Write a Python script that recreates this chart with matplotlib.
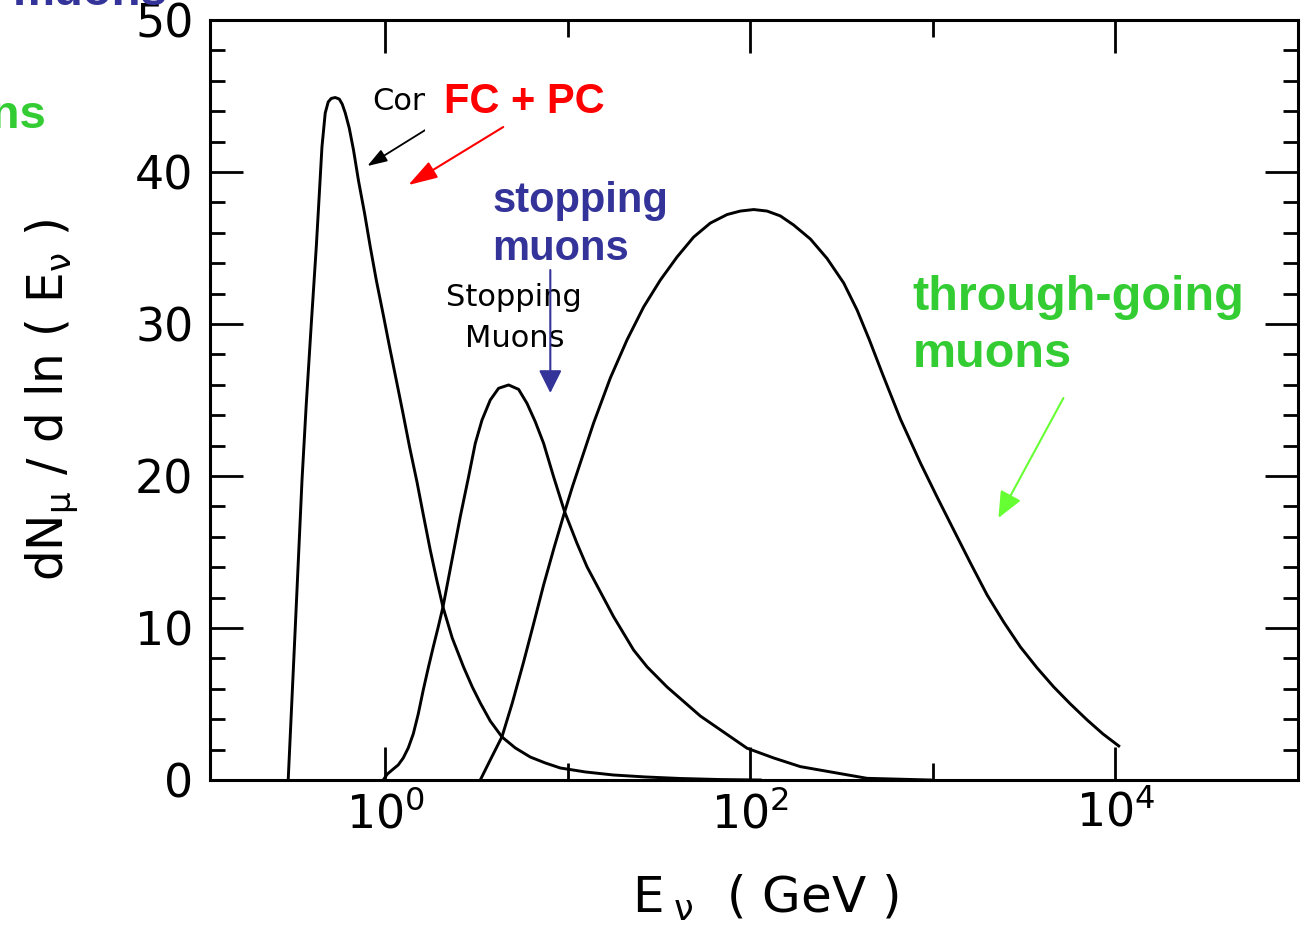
import matplotlib
matplotlib.use("Agg")
import matplotlib.pyplot as plt
import matplotlib.patches as mpatches
from matplotlib.ticker import FixedLocator, NullFormatter

plt.rcParams['font.family'] = ['DejaVu Sans']
plt.rcParams['mathtext.default'] = 'regular'

# neutrino energy (GeV) and dN/dlnE for the three event classes
e_contained = [0.294, 0.321, 0.350, 0.369, 0.393, 0.419, 0.435, 0.450, 0.469, 0.487,
               0.506, 0.532, 0.560, 0.581, 0.604, 0.635, 0.670, 0.714, 0.770, 0.828,
               0.893, 0.971, 1.056, 1.149, 1.250, 1.359, 1.492, 1.621, 1.764, 1.904,
               2.071, 2.328, 2.686, 2.998, 3.316, 3.761, 4.361, 5.157, 6.232, 7.53,
               9.10, 12.47, 17.76, 26.6, 41.3, 68.5, 113.4]
n_contained = [0.0, 9.87, 19.74, 24.67, 29.93, 35.07, 38.49, 41.64, 43.88, 44.61,
               44.84, 44.90, 44.80, 44.47, 43.88, 42.89, 41.45, 39.41, 37.30, 35.07,
               32.89, 30.72, 28.49, 26.32, 24.14, 21.91, 19.61, 17.37, 15.13, 13.29,
               11.38, 9.34, 7.43, 6.12, 5.07, 3.88, 2.83, 2.11, 1.51, 1.12,
               0.79, 0.53, 0.33, 0.20, 0.10, 0.03, 0.0]

e_stopping = [0.975, 1.026, 1.106, 1.178, 1.255, 1.337, 1.424, 1.516, 1.615, 1.720,
              1.832, 1.951, 2.071, 2.320, 2.576, 2.861, 3.113, 3.388, 3.761, 4.177,
              4.739, 5.376, 5.976, 6.636, 7.370, 8.360, 9.605, 11.23, 12.74, 17.82,
              22.94, 27.16, 34.97, 53.21, 95.95, 134.2, 187.9, 436.0, 969.0]
n_stopping = [0.0, 0.39, 0.72, 0.99, 1.45, 2.11, 3.03, 4.34, 5.92, 7.37,
              8.75, 10.07, 11.38, 14.47, 17.32, 19.95, 22.15, 23.68, 25.00, 25.77,
              25.99, 25.70, 24.78, 23.57, 22.15, 19.95, 17.65, 15.57, 14.03, 10.74,
              8.55, 7.45, 6.12, 4.21, 2.09, 1.45, 0.88, 0.11, 0.0]

e_through = [3.316, 3.761, 4.361, 4.966, 5.725, 6.471, 7.370, 8.433, 9.605, 10.59,
             11.71, 13.85, 17.10, 21.10, 26.02, 32.13, 39.67, 48.91, 60.37, 74.53,
             88.14, 104.3, 123.5, 146.0, 172.7, 213.3, 263.2, 324.5, 384.3, 448.9,
             526.9, 663.6, 854.2, 1054.0, 1300.0, 1605.0, 1982.0, 2443.0, 3016.0, 3724.0,
             4592.0, 5667.0, 6997.0, 8543.0, 10425.0]
n_through = [0.0, 1.32, 2.85, 5.07, 7.76, 10.20, 12.83, 15.33, 17.63, 19.28,
             20.86, 23.49, 26.45, 28.95, 31.12, 32.89, 34.41, 35.72, 36.64, 37.20,
             37.43, 37.53, 37.43, 37.11, 36.51, 35.59, 34.31, 32.70, 30.92, 28.95,
             26.78, 23.75, 20.86, 18.62, 16.45, 14.28, 12.17, 10.39, 8.75, 7.37,
             6.12, 5.00, 3.95, 3.03, 2.24]

x_major = [1.0, 1e2, 1e4]
x_minor = [10.0, 1e3]
y_major = [0, 10, 20, 30, 40, 50]
y_minor = [2, 4, 6, 8, 12, 14, 16, 18, 22, 24, 26, 28, 32, 34, 36, 38, 42, 44, 46, 48]

BLUE = '#333399'
GREEN = '#33cc33'
RED = '#ff0000'

fig = plt.figure(figsize=(13.04, 9.30), dpi=100)
ax = fig.add_axes([210 / 1304, 150 / 930, 1088 / 1304, 760 / 930])

for e, n in [(e_contained, n_contained), (e_stopping, n_stopping), (e_through, n_through)]:
    ax.plot(e, n, color='black', lw=2.1, solid_joinstyle='round')

ax.set_xscale('log')
ax.set_xlim(10 ** -0.96, 1e5)
ax.set_ylim(0, 50)

ax.xaxis.set_major_locator(FixedLocator(x_major))
ax.xaxis.set_minor_locator(FixedLocator(x_minor))
ax.xaxis.set_minor_formatter(NullFormatter())
ax.yaxis.set_major_locator(FixedLocator(y_major))
ax.yaxis.set_minor_locator(FixedLocator(y_minor))

for s in ax.spines.values():
    s.set_linewidth(2.2)

ax.tick_params(which='both', direction='in', top=True, right=True, width=2.0)
ax.tick_params(axis='y', which='major', length=24, labelsize=33, pad=12)
ax.tick_params(axis='y', which='minor', length=11)
ax.tick_params(axis='x', which='major', length=24, labelsize=33, pad=8)
ax.tick_params(axis='x', which='minor', length=12)

ax.set_xlabel(r'E$_{\;\nu}$  ( GeV )', fontsize=36)
ax.xaxis.set_label_coords(0.51, -0.122)
fig.text(52 / 1304, 1 - 400 / 930, r'dN$_\mu$ / d ln ( E$_\nu$ )', fontsize=35,
         rotation=90, ha='center', va='center')

# original panel labels, partly hidden under the slide's white box
ax.text(0.849, 44.08, 'Contained', fontsize=22, va='baseline', ha='left', zorder=3)
ax.annotate('', xy=(0.797, 40.39), xytext=(1.656, 42.76), zorder=3,
            arrowprops=dict(arrowstyle='-|>,head_length=0.6,head_width=0.2',
                            color='black', lw=1.3, mutation_scale=20,
                            shrinkA=0, shrinkB=0))
ax.add_patch(mpatches.Rectangle((425 / 1304, 1 - 150 / 930), 590 / 1304, 90 / 930,
                                transform=fig.transFigure, facecolor='white',
                                edgecolor='none', zorder=4, clip_on=False))

ax.text(5.09, 28.49, 'Stopping\nMuons', fontsize=22, ha='center', va='baseline',
        multialignment='center', linespacing=1.5)

# slide annotations
ax.text(2.105, 43.88, 'FC + PC', fontsize=30, fontweight='bold', color=RED,
        family='Liberation Sans', va='baseline', zorder=5)
ax.annotate('', xy=(1.337, 39.14), xytext=(4.43, 42.96), zorder=5,
            arrowprops=dict(arrowstyle='-|>,head_length=0.9,head_width=0.28',
                            color=RED, lw=1.5, mutation_scale=20,
                            shrinkA=0, shrinkB=0))

ax.text(3.858, 34.21, 'stopping\nmuons', fontsize=30, fontweight='bold', color=BLUE,
        family='Liberation Sans', va='baseline', linespacing=1.27, zorder=5)
ax.annotate('', xy=(8.02, 25.46), xytext=(8.02, 33.55), zorder=5,
            arrowprops=dict(arrowstyle='-|>,head_length=0.7,head_width=0.35',
                            color=BLUE, lw=1.5, mutation_scale=20,
                            shrinkA=0, shrinkB=0))

ax.text(772, 27.17, 'through-going\nmuons', fontsize=35, fontweight='bold', color=GREEN,
        family='Liberation Sans', va='baseline', linespacing=1.33, zorder=5)
ax.annotate('', xy=(2286, 17.24), xytext=(5188, 25.13), zorder=5,
            arrowprops=dict(arrowstyle='-|>,head_length=0.8,head_width=0.35',
                            color='#66ff33', lw=1.5, mutation_scale=20,
                            shrinkA=0, shrinkB=0))

fig.text(13 / 1304, 1 - 5 / 930, 'muons', fontsize=34, fontweight='bold', color=BLUE,
         family='Liberation Sans', va='baseline', ha='left')
fig.text(47 / 1304, 1 - 128 / 930, 'muons', fontsize=34, fontweight='bold', color=GREEN,
         family='Liberation Sans', va='baseline', ha='right')

fig.savefig('out.png', dpi=100, facecolor='white')
